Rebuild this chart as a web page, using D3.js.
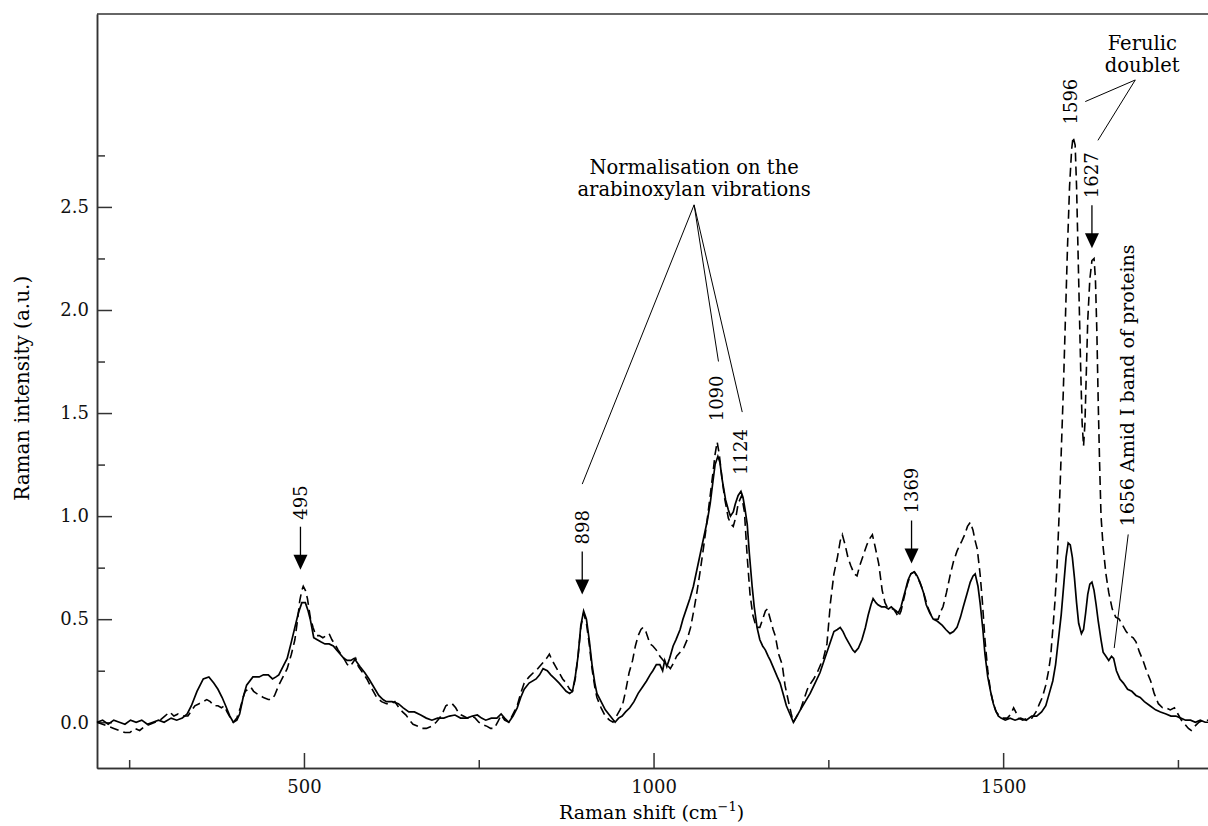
<!DOCTYPE html>
<html>
<head>
<meta charset="utf-8">
<script src="https://cdn.jsdelivr.net/npm/d3@7"></script>
<style>
  body { margin: 0; background: #fff; }
  svg { display: block; font-family: "DejaVu Serif", serif; }
  .axis path, .axis line { stroke: #333; stroke-width: 1.5; }
  .axis text { font-family: "DejaVu Serif", serif; font-size: 18px; fill: #111; }
</style>
</head>
<body>
<div id="chart"></div>
<script>
// Spectra: [Raman shift (cm-1), intensity (a.u.)]
const solidSpectrum = [
  [204,0.00],[212,0.01],[220,-0.01],[228,0.01],[236,0.00],[244,-0.01],[252,0.01],[260,0.00],
  [268,0.01],[276,-0.01],[284,0.00],[292,0.01],[300,0.00],[310,0.02],[318,0.01],[326,0.02],
  [333,0.04],[339,0.08],[347,0.15],[356,0.21],[364,0.22],[371,0.19],[377,0.16],[383,0.12],
  [388,0.08],[394,0.03],[399,0.00],[404,0.01],[408,0.04],[413,0.12],[418,0.18],[427,0.22],
  [436,0.22],[442,0.23],[449,0.23],[455,0.21],[460,0.22],[464,0.23],[470,0.27],[476,0.31],
  [482,0.39],[487,0.46],[492,0.53],[497,0.58],[502,0.58],[506,0.54],[509,0.50],[514,0.41],
  [519,0.40],[524,0.39],[530,0.38],[536,0.38],[542,0.37],[547,0.35],[552,0.33],[557,0.31],
  [562,0.30],[567,0.30],[572,0.31],[576,0.29],[580,0.27],[587,0.24],[593,0.21],[600,0.17],
  [607,0.13],[613,0.11],[618,0.10],[626,0.10],[635,0.09],[642,0.07],[650,0.05],[658,0.05],
  [667,0.035],[675,0.02],[683,0.01],[691,0.02],[700,0.02],[708,0.03],[716,0.035],[724,0.02],
  [733,0.02],[741,0.03],[748,0.035],[754,0.02],[760,0.01],[768,0.02],[776,0.02],[782,0.04],
  [787,0.02],[793,0.00],[799,0.03],[805,0.07],[810,0.12],[815,0.16],[822,0.19],[832,0.21],
  [837,0.23],[842,0.26],[848,0.25],[853,0.23],[859,0.21],[865,0.19],[870,0.17],[875,0.15],
  [880,0.14],[884,0.15],[888,0.22],[892,0.32],[896,0.47],[900,0.54],[904,0.50],[908,0.40],
  [912,0.28],[916,0.19],[919,0.14],[925,0.10],[931,0.06],[938,0.03],[945,0.00],[950,0.02],
  [955,0.03],[960,0.05],[966,0.07],[972,0.10],[978,0.14],[984,0.17],[990,0.20],[995,0.23],
  [999,0.25],[1004,0.28],[1009,0.28],[1013,0.25],[1016,0.30],[1019,0.27],[1023,0.31],[1028,0.37],
  [1032,0.40],[1038,0.45],[1042,0.50],[1047,0.55],[1052,0.60],[1057,0.66],[1062,0.74],[1067,0.82],
  [1072,0.90],[1077,0.98],[1081,1.06],[1085,1.17],[1088,1.25],[1092,1.29],[1095,1.26],[1098,1.18],
  [1103,1.08],[1107,1.03],[1110,1.00],[1114,1.02],[1117,1.06],[1121,1.10],[1125,1.12],[1128,1.09],
  [1131,1.03],[1134,0.96],[1137,0.82],[1141,0.66],[1144,0.56],[1148,0.46],[1152,0.40],[1156,0.37],
  [1160,0.35],[1164,0.32],[1167,0.30],[1172,0.26],[1177,0.22],[1181,0.19],[1186,0.13],[1190,0.08],
  [1195,0.04],[1200,0.00],[1205,0.03],[1210,0.06],[1217,0.10],[1224,0.14],[1231,0.19],[1238,0.24],
  [1245,0.31],[1250,0.36],[1254,0.40],[1258,0.44],[1263,0.45],[1267,0.46],[1271,0.44],[1275,0.41],
  [1280,0.38],[1285,0.35],[1288,0.34],[1293,0.36],[1298,0.40],[1303,0.46],[1307,0.52],[1311,0.57],
  [1314,0.60],[1318,0.58],[1321,0.57],[1326,0.56],[1331,0.56],[1336,0.55],[1340,0.56],[1343,0.55],
  [1347,0.54],[1350,0.53],[1354,0.56],[1357,0.60],[1361,0.65],[1364,0.69],[1368,0.72],[1373,0.73],
  [1377,0.71],[1381,0.68],[1386,0.63],[1390,0.57],[1395,0.53],[1400,0.50],[1406,0.49],[1413,0.47],
  [1418,0.45],[1424,0.43],[1429,0.44],[1434,0.46],[1439,0.51],[1443,0.56],[1448,0.62],[1453,0.68],
  [1457,0.71],[1460,0.72],[1464,0.66],[1467,0.58],[1471,0.45],[1474,0.33],[1478,0.22],[1482,0.15],
  [1486,0.09],[1489,0.06],[1493,0.03],[1497,0.02],[1503,0.01],[1510,0.02],[1517,0.01],[1525,0.02],
  [1533,0.01],[1541,0.03],[1548,0.03],[1555,0.05],[1561,0.08],[1566,0.14],[1571,0.20],[1575,0.28],
  [1579,0.40],[1583,0.52],[1587,0.68],[1590,0.80],[1593,0.87],[1596,0.86],[1599,0.80],[1602,0.70],
  [1605,0.58],[1608,0.48],[1612,0.43],[1615,0.45],[1618,0.53],[1621,0.62],[1624,0.67],[1627,0.68],
  [1630,0.64],[1633,0.57],[1636,0.49],[1640,0.40],[1643,0.34],[1647,0.32],[1651,0.30],[1655,0.32],
  [1658,0.31],[1662,0.25],[1667,0.21],[1672,0.19],[1678,0.16],[1684,0.15],[1690,0.13],[1696,0.12],
  [1702,0.10],[1710,0.08],[1718,0.06],[1725,0.05],[1733,0.04],[1740,0.03],[1747,0.03],[1754,0.02],
  [1761,0.01],[1768,0.01],[1775,0.00],[1782,0.01],[1789,0.00],[1793,0.00]
];

const dashedSpectrum = [
  [204,0.00],[212,-0.01],[220,-0.02],[228,-0.03],[236,-0.04],[244,-0.05],[251,-0.05],[258,-0.03],
  [265,-0.04],[272,-0.02],[280,-0.01],[287,0.00],[294,0.01],[301,0.03],[308,0.05],[314,0.03],
  [320,0.04],[327,0.03],[334,0.03],[340,0.06],[344,0.08],[350,0.09],[356,0.10],[361,0.11],
  [366,0.10],[371,0.08],[377,0.08],[382,0.07],[386,0.08],[390,0.05],[395,0.02],[399,0.00],
  [404,0.02],[409,0.07],[413,0.12],[416,0.15],[420,0.16],[424,0.17],[428,0.15],[432,0.14],
  [437,0.13],[442,0.12],[449,0.11],[454,0.11],[458,0.13],[464,0.18],[470,0.22],[476,0.26],
  [482,0.33],[487,0.40],[491,0.50],[494,0.59],[497,0.64],[499,0.66],[502,0.64],[505,0.60],
  [509,0.51],[513,0.46],[517,0.42],[522,0.42],[527,0.41],[532,0.42],[536,0.43],[540,0.40],
  [544,0.38],[549,0.35],[553,0.33],[557,0.31],[562,0.28],[566,0.27],[570,0.29],[574,0.31],
  [578,0.27],[584,0.24],[590,0.21],[596,0.17],[604,0.12],[611,0.10],[618,0.09],[625,0.09],
  [630,0.10],[636,0.07],[641,0.05],[646,0.035],[651,0.01],[656,-0.01],[663,-0.02],[669,-0.03],
  [675,-0.03],[682,-0.02],[689,0.00],[694,0.02],[699,0.05],[703,0.08],[708,0.09],[712,0.09],
  [717,0.07],[722,0.04],[728,0.03],[734,0.02],[740,0.03],[745,0.02],[750,0.00],[755,-0.01],
  [762,-0.02],[767,-0.03],[772,-0.03],[777,0.00],[782,0.035],[787,0.01],[793,0.00],[799,0.04],
  [805,0.08],[810,0.14],[815,0.19],[822,0.22],[828,0.24],[832,0.25],[837,0.27],[842,0.29],
  [847,0.31],[851,0.33],[855,0.30],[860,0.27],[865,0.24],[870,0.21],[875,0.19],[880,0.16],
  [884,0.15],[888,0.21],[892,0.32],[896,0.46],[900,0.53],[904,0.48],[908,0.38],[912,0.26],
  [916,0.17],[919,0.12],[925,0.07],[931,0.03],[937,0.01],[942,0.00],[947,0.03],[952,0.06],
  [956,0.09],[960,0.15],[965,0.24],[970,0.30],[974,0.37],[978,0.42],[982,0.45],[985,0.46],
  [989,0.44],[992,0.41],[995,0.38],[999,0.37],[1004,0.35],[1009,0.32],[1014,0.30],[1019,0.28],
  [1024,0.26],[1029,0.29],[1033,0.32],[1038,0.34],[1043,0.36],[1048,0.40],[1053,0.46],[1058,0.55],
  [1062,0.63],[1067,0.74],[1072,0.86],[1077,0.99],[1081,1.10],[1085,1.21],[1088,1.30],[1091,1.36],
  [1094,1.30],[1098,1.18],[1102,1.08],[1107,0.99],[1111,0.96],[1114,0.95],[1118,1.00],[1121,1.06],
  [1126,1.10],[1130,1.02],[1134,0.80],[1138,0.62],[1142,0.52],[1147,0.46],[1152,0.46],[1156,0.50],
  [1160,0.54],[1163,0.55],[1167,0.50],[1171,0.45],[1174,0.42],[1179,0.33],[1184,0.28],[1188,0.18],
  [1193,0.10],[1197,0.04],[1200,0.00],[1205,0.03],[1210,0.06],[1215,0.11],[1220,0.16],[1225,0.19],
  [1229,0.21],[1234,0.24],[1239,0.28],[1243,0.31],[1248,0.38],[1253,0.58],[1258,0.72],[1263,0.80],
  [1267,0.88],[1270,0.91],[1274,0.86],[1278,0.80],[1282,0.76],[1287,0.72],[1291,0.71],[1295,0.76],
  [1300,0.81],[1305,0.86],[1309,0.89],[1313,0.91],[1317,0.85],[1322,0.77],[1327,0.64],[1331,0.58],
  [1334,0.56],[1338,0.55],[1343,0.55],[1347,0.53],[1350,0.51],[1354,0.54],[1358,0.60],[1363,0.67],
  [1368,0.72],[1373,0.73],[1378,0.70],[1383,0.66],[1387,0.62],[1392,0.56],[1397,0.52],[1400,0.50],
  [1404,0.50],[1407,0.50],[1411,0.54],[1414,0.56],[1419,0.63],[1424,0.71],[1429,0.78],[1434,0.83],
  [1438,0.86],[1441,0.88],[1445,0.91],[1449,0.95],[1453,0.97],[1457,0.93],[1460,0.88],[1463,0.84],
  [1467,0.72],[1470,0.60],[1474,0.40],[1478,0.25],[1482,0.15],[1486,0.09],[1490,0.05],[1495,0.03],
  [1500,0.02],[1506,0.02],[1511,0.04],[1515,0.07],[1518,0.05],[1522,0.02],[1528,0.01],[1535,0.02],
  [1541,0.02],[1547,0.05],[1552,0.09],[1556,0.12],[1561,0.18],[1565,0.25],[1568,0.32],[1571,0.45],
  [1574,0.58],[1577,0.75],[1580,1.00],[1583,1.30],[1586,1.60],[1589,1.95],[1592,2.30],[1595,2.60],
  [1598,2.78],[1600,2.84],[1603,2.80],[1605,2.60],[1607,2.30],[1609,2.00],[1611,1.70],[1613,1.45],
  [1615,1.34],[1617,1.45],[1619,1.70],[1621,1.95],[1624,2.15],[1627,2.24],[1630,2.25],[1632,2.15],
  [1634,1.90],[1636,1.55],[1638,1.25],[1640,1.00],[1643,0.85],[1647,0.72],[1651,0.63],[1656,0.55],
  [1661,0.51],[1666,0.50],[1671,0.47],[1676,0.44],[1681,0.42],[1686,0.41],[1690,0.39],[1695,0.34],
  [1700,0.30],[1705,0.25],[1711,0.20],[1716,0.14],[1722,0.09],[1728,0.07],[1733,0.07],[1739,0.06],
  [1745,0.07],[1750,0.04],[1755,0.01],[1760,-0.01],[1765,-0.03],[1769,-0.04],[1774,-0.02],[1780,0.00],
  [1786,0.01],[1793,0.01]
];

// Axis ticks
const xMajorTicks = [500, 1000, 1500];
const xMinorTicks = [250, 750, 1250, 1750];
const yMajorTicks = [0, 0.5, 1.0, 1.5, 2.0, 2.5];
const yMinorTicks = [0.25, 0.75, 1.25, 1.75, 2.25, 2.75];

// Arrowed peaks: band position and intensity of the arrow tip
const arrowBands = [495, 898, 1369, 1627];
const arrowTips = [0.74, 0.62, 0.77, 2.30];

// Rotated labels without arrows: band position and intensity under the label
const plainBands = [1090, 1124, 1596];
const plainBase = [1.46, 1.20, 2.90];

// Margins, width, & height
const margin = { top: 14, right: 0, bottom: 58, left: 97 };
const WIDTH = 1208 - margin.left - margin.right;
const HEIGHT = 826 - margin.top - margin.bottom;

const svg = d3
  .select("#chart")
  .append("svg")
  .attr("width", 1208)
  .attr("height", 826)
  .append("g")
  .attr("transform", "translate(" + margin.left + "," + margin.top + ")");

// Scales
const x = d3.scaleLinear().domain([204, 1793]).range([0, WIDTH]);
const y = d3.scaleLinear().domain([-0.222, 3.436]).range([HEIGHT, 0]);

// Axes (ticks point into the plot)
const xAxis = d3.axisBottom(x).tickValues(xMajorTicks).tickSize(-15).tickSizeOuter(0).tickPadding(12)
  .tickFormat(d3.format("d"));
const xMinor = d3.axisBottom(x).tickValues(xMinorTicks).tickSize(-8).tickSizeOuter(0).tickFormat("");
const yAxis = d3.axisLeft(y).tickValues(yMajorTicks).tickSize(-15).tickSizeOuter(0).tickPadding(8)
  .tickFormat(d3.format(".1f"));
const yMinor = d3.axisLeft(y).tickValues(yMinorTicks).tickSize(-8).tickSizeOuter(0).tickFormat("");

svg.append("g").attr("class", "axis").attr("transform", "translate(0," + HEIGHT + ")").call(xAxis);
svg.append("g").attr("class", "axis").attr("transform", "translate(0," + HEIGHT + ")").call(xMinor);
svg.append("g").attr("class", "axis").call(yAxis);
svg.append("g").attr("class", "axis").call(yMinor);

// Top frame line
svg.append("line")
  .attr("x1", 0).attr("x2", WIDTH).attr("y1", 0).attr("y2", 0)
  .attr("stroke", "#333").attr("stroke-width", 1.5);

// Axis labels
svg.append("text")
  .attr("x", x(1000) - 2)
  .attr("y", HEIGHT + 51)
  .attr("text-anchor", "middle")
  .style("font-size", "19px")
  .call((t) => {
    t.append("tspan").text("Raman shift (cm");
    t.append("tspan").attr("dy", -8).style("font-size", "13px").text("\u22121");
    t.append("tspan").attr("dy", 8).text(")");
  });

svg.append("text")
  .attr("transform", "translate(" + (-68) + "," + y(1.62) + ") rotate(-90)")
  .attr("text-anchor", "middle")
  .style("font-size", "20px")
  .text("Raman intensity (a.u.)");

// Spectra
const line = d3.line().x((d) => x(d[0])).y((d) => y(d[1]));

svg.append("path")
  .datum(dashedSpectrum)
  .attr("d", line)
  .attr("fill", "none")
  .attr("stroke", "#000")
  .attr("stroke-width", 1.6)
  .attr("stroke-dasharray", "9,5");

svg.append("path")
  .datum(solidSpectrum)
  .attr("d", line)
  .attr("fill", "none")
  .attr("stroke", "#000")
  .attr("stroke-width", 1.7);

// Rotated band label, reading upwards from its bottom end; returns the top end
function bandLabel(txt, cx, bottom, size) {
  const t = svg.append("text")
    .attr("transform", "translate(" + (cx + 6.5) + "," + bottom + ") rotate(-90)")
    .style("font-size", (size || 18) + "px")
    .text(txt);
  return bottom - t.node().getComputedTextLength();
}

const labelTops = {};

// Arrows
arrowBands.forEach((b, i) => {
  const cx = x(b);
  const tip = y(arrowTips[i]);
  svg.append("line")
    .attr("x1", cx).attr("x2", cx)
    .attr("y1", tip - 43).attr("y2", tip - 14)
    .attr("stroke", "#000").attr("stroke-width", 1.3);
  svg.append("path")
    .attr("d", "M" + (cx - 7) + "," + (tip - 15) + "L" + (cx + 7) + "," + (tip - 15) + "L" + cx + "," + tip + "Z")
    .attr("fill", "#000");
  labelTops[b] = bandLabel(String(b), cx, tip - 50);
});

plainBands.forEach((b, i) => {
  labelTops[b] = bandLabel(String(b), x(b), y(plainBase[i]));
});

// Leader lines
function leader(x1, y1, x2, y2) {
  svg.append("line")
    .attr("x1", x1).attr("y1", y1).attr("x2", x2).attr("y2", y2)
    .attr("stroke", "#000").attr("stroke-width", 1);
}

// Normalisation note
const normX = x(1058);
const normY = y(2.51);
svg.append("text")
  .attr("x", normX).attr("y", y(2.66))
  .attr("text-anchor", "middle")
  .style("font-size", "19.5px")
  .call((t) => {
    t.append("tspan").attr("x", normX).text("Normalisation on the");
    t.append("tspan").attr("x", normX).attr("dy", 22).text("arabinoxylan vibrations");
  });
leader(normX, normY, x(898), labelTops[898] - 26);
leader(normX, normY, x(1090) + 2, labelTops[1090] - 14);
leader(normX, normY, x(1124) + 2, labelTops[1124] - 17);

// Ferulic doublet note
const ferX = x(1699);
svg.append("text")
  .attr("x", ferX).attr("y", y(3.26))
  .attr("text-anchor", "middle")
  .style("font-size", "19.5px")
  .call((t) => {
    t.append("tspan").attr("x", ferX).text("Ferulic");
    t.append("tspan").attr("x", ferX).attr("dy", 22).text("doublet");
  });
const ferApexX = x(1689);
const ferApexY = y(3.116);
leader(ferApexX, ferApexY, x(1596) + 15, (labelTops[1596] + y(2.90)) / 2);
leader(ferApexX, ferApexY, x(1627) + 6, labelTops[1627] - 12);

// Amid I note
const amidBottom = y(0.95);
bandLabel("1656 Amid I band of proteins", x(1656) + 15, amidBottom, 19);
leader(x(1656) + 16, amidBottom + 8, x(1656) + 2, y(0.36));
</script>
</body>
</html>
